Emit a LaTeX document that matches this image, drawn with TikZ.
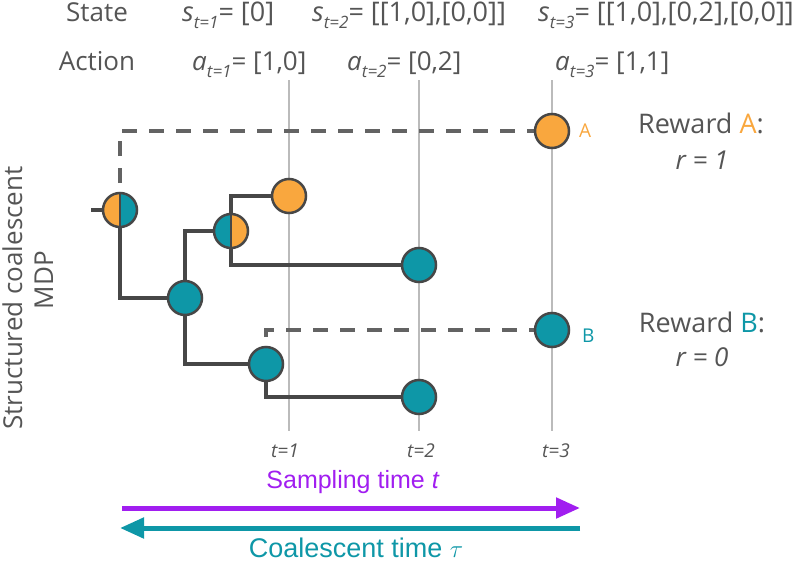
\documentclass[tikz,border=0pt]{standalone}
\usepackage{fontspec}
\setmainfont{Open Sans}
\newfontfamily\arialfont{Liberation Sans}
\usetikzlibrary{arrows.meta,backgrounds}

\definecolor{corange}{HTML}{F9A73E}
\definecolor{cteal}{HTML}{0E97A7}
\definecolor{cpurple}{HTML}{A11EF0}
\definecolor{cedge}{HTML}{474747}
\definecolor{ctext}{HTML}{555555}
\definecolor{cguide}{HTML}{BBBBBB}

\newcommand{\fsz}[1]{\fontsize{#1}{#1}\selectfont}
\newcommand{\tsub}[1]{\raisebox{-7pt}{\fsz{17}\itshape #1}}

\begin{document}
\begin{tikzpicture}[
  x=1pt, y=-1pt,
  lbl/.style={text=ctext, inner sep=0pt, font=\fsz{26}},
  eqn/.style={lbl, font=\fsz{27}},
  tick/.style={text=ctext, inner sep=0pt, font=\fsz{19}\itshape},
  nodebase/.style={circle, draw=cedge, line width=2.5pt, minimum size=34pt, inner sep=0pt},
  orangenode/.style={nodebase, fill=corange},
  tealnode/.style={nodebase, fill=cteal},
  halfot/.style={nodebase, path picture={
      \fill[corange] (path picture bounding box.south west) rectangle (path picture bounding box.north);
      \fill[cteal] (path picture bounding box.south) rectangle (path picture bounding box.north east);
      \draw[cedge, line width=2.5pt] (path picture bounding box.south) -- (path picture bounding box.north);}},
  halfto/.style={nodebase, path picture={
      \fill[cteal] (path picture bounding box.south west) rectangle (path picture bounding box.north);
      \fill[corange] (path picture bounding box.south) rectangle (path picture bounding box.north east);
      \draw[cedge, line width=2.5pt] (path picture bounding box.south) -- (path picture bounding box.north);}},
  tree/.style={draw=cedge, line width=3.5pt},
  dashline/.style={draw=cedge!85, line width=3.5pt, dash pattern=on 15pt off 12pt},
  guide/.style={draw=cguide, line width=2pt},
  samparrow/.style={draw=cpurple, line width=5pt, -{Triangle[length=24pt, width=20pt]}},
  coalarrow/.style={draw=cteal, line width=5pt, -{Triangle[length=24pt, width=20pt]}}
]
\useasboundingbox (0,0) rectangle (800,562);

% header rows
\node[lbl, anchor=base] (state) at (97,21) {State};
\node[lbl, anchor=base] (action) at (97,70) {Action};
\node[eqn, anchor=base west] (s1) at (182,21) {\textit{s}\tsub{t=1}= [0]};
\node[eqn, anchor=base west] (s2) at (312,21) {\textit{s}\tsub{t=2}= [[1,0],[0,0]]};
\node[eqn, anchor=base west] (s3) at (538,21) {\textit{s}\tsub{t=3}= [[1,0],[0,2],[0,0]]};
\node[lbl, anchor=base west] (a1) at (192,70) {\textit{a}\tsub{t=1}= [1,0]};
\node[lbl, anchor=base west] (a2) at (347,70) {\textit{a}\tsub{t=2}= [0,2]};
\node[lbl, anchor=base west] (a3) at (555,70) {\textit{a}\tsub{t=3}= [1,1]};

% side label
\node[lbl, rotate=90, anchor=base] (title1) at (22,298) {Structured coalescent};
\node[lbl, rotate=90, anchor=base] (title2) at (53,280) {MDP};

% tree nodes
\coordinate (stub) at (91,210);
\node[halfot] (root) at (120,210) {};
\node[tealnode] (n1) at (185,298) {};
\node[halfto] (n2) at (231,231) {};
\node[orangenode] (leaf1) at (289,196) {};
\node[tealnode] (leaf2) at (419,265) {};
\node[tealnode] (n3) at (266,364) {};
\node[tealnode] (leaf3) at (419,397) {};
\node[orangenode] (A) at (552,131) {};
\node[tealnode] (B) at (552,330) {};
\node[inner sep=0pt, font=\fsz{19}, text=corange, anchor=base west] (labA) at (579,137) {A};
\node[inner sep=0pt, font=\fsz{19}, text=cteal, anchor=base west] (labB) at (582,342) {B};

% time ticks
\node[tick, anchor=base] (t1) at (285,457) {t=1};
\node[tick, anchor=base] (t2) at (421,457) {t=2};
\node[tick, anchor=base] (t3) at (556,457) {t=3};

\begin{scope}[on background layer]
  \foreach \gx in {289,419,552}
    \draw[guide] (\gx,80) -- (\gx,431);
  \draw[tree] (stub) -- (root);
  \draw[tree] (root.center) |- (n1.center);
  \draw[tree] (n1.center) |- (n2.center);
  \draw[tree] (n2.center) |- (leaf1.center);
  \draw[tree] (n2.center) |- (leaf2.center);
  \draw[tree] (n1.center) |- (n3.center);
  \draw[tree] (n3.center) |- (leaf3.center);
  \draw[dashline] (root.center) |- (A.center);
  \draw[dashline] (n3.center) |- (B.center);
\end{scope}

% rewards
\node[lbl, anchor=base, font=\fsz{27}] (rewA) at (701,133) {Reward \textcolor{corange}{A}:};
\node[lbl, anchor=base, font=\fsz{26}\itshape] (rA) at (702,169) {r = 1};
\node[lbl, anchor=base, font=\fsz{27}] (rewB) at (702,332) {Reward \textcolor{cteal}{B}:};
\node[lbl, anchor=base, font=\fsz{26}\itshape] (rB) at (702,366) {r = 0};

% time arrows
\coordinate (sampL) at (122,508);
\coordinate (sampR) at (580,508);
\coordinate (coalR) at (580,528);
\coordinate (coalL) at (120,528);
\draw[samparrow] (sampL) -- (sampR);
\draw[coalarrow] (coalR) -- (coalL);
\node[anchor=base, inner sep=0pt, text=cpurple, font=\arialfont\fsz{25}] (samp) at (353,488) {Sampling time \textit{t}};
\node[anchor=base, inner sep=0pt, text=cteal, font=\arialfont\fsz{27}] (coal) at (356,557) {Coalescent time $\tau$};
\end{tikzpicture}
\end{document}
